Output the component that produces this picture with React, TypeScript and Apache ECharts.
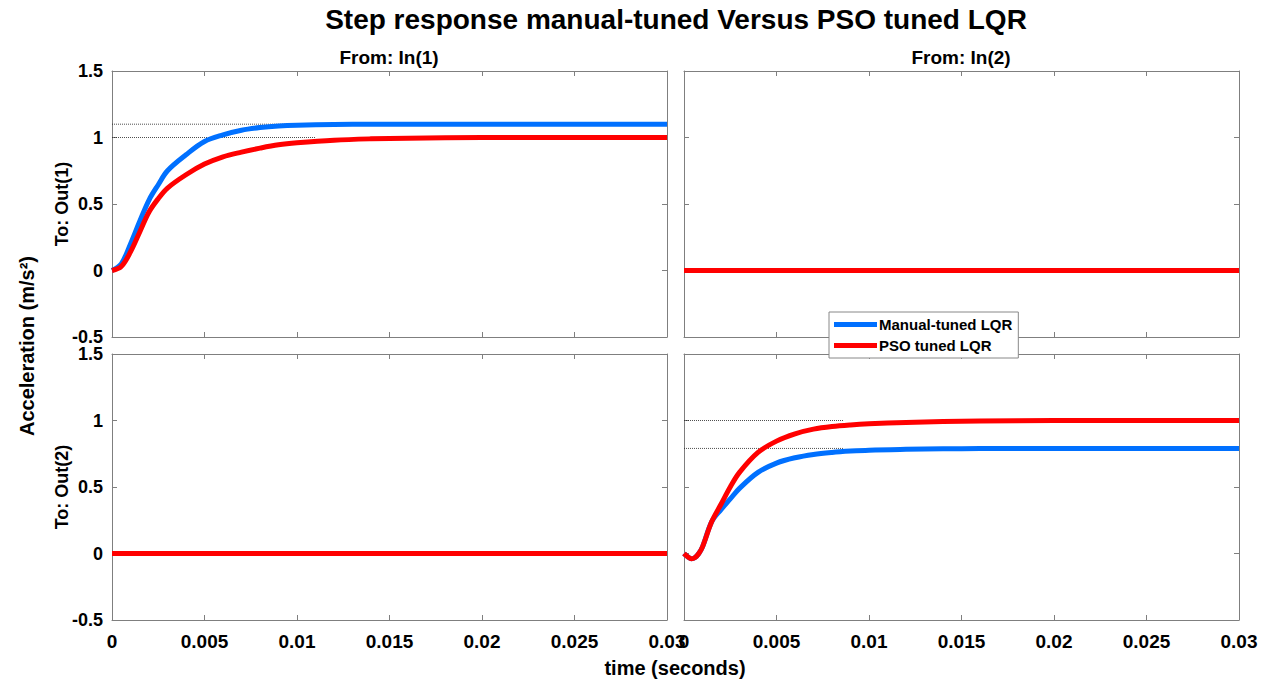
import React, { useEffect, useRef } from "react";
import * as echarts from "echarts";

const xTicks = [0, 0.005, 0.01, 0.015, 0.02, 0.025, 0.03];
const yTicks = [-0.5, 0, 0.5, 1, 1.5];

// Out(1) from In(1)
const t1 = [0, 0.0005, 0.001, 0.0015, 0.002, 0.0025, 0.003, 0.004, 0.005, 0.006, 0.007, 0.008, 0.009, 0.01, 0.012, 0.014, 0.016, 0.02, 0.025, 0.03];
const manualOut1 = [0, 0.05, 0.2, 0.37, 0.53, 0.645, 0.75, 0.87, 0.97, 1.02, 1.055, 1.075, 1.087, 1.093, 1.098, 1.1, 1.1, 1.1, 1.1, 1.1];
const psoOut1 = [0, 0.03, 0.14, 0.29, 0.44, 0.54, 0.62, 0.72, 0.8, 0.855, 0.89, 0.92, 0.945, 0.96, 0.98, 0.99, 0.995, 1.0, 1.0, 1.0];

// Out(2) from In(2)
const t2 = [0, 0.0002, 0.0004, 0.0006, 0.0008, 0.001, 0.0015, 0.002, 0.0025, 0.003, 0.004, 0.005, 0.006, 0.007, 0.008, 0.009, 0.01, 0.012, 0.014, 0.016, 0.02, 0.03];
const manualOut2 = [0, -0.025, -0.04, -0.03, 0.0, 0.05, 0.24, 0.33, 0.41, 0.49, 0.61, 0.68, 0.72, 0.745, 0.76, 0.77, 0.777, 0.783, 0.787, 0.789, 0.79, 0.79];
const psoOut2 = [0, -0.025, -0.04, -0.03, 0.0, 0.05, 0.24, 0.37, 0.5, 0.61, 0.76, 0.845, 0.9, 0.935, 0.955, 0.967, 0.975, 0.985, 0.992, 0.996, 1.0, 1.0];

// cross-coupling channels (zero)
const tZero = [0, 0.03];
const zeroVals = [0, 0];

// steady-state dotted guide lines
const refPanels = [0, 0, 3, 3];
const refLevels = [1.1, 1.0, 1.0, 0.79];
const refEnds = [0.0105, 0.011, 0.0086, 0.0086];

const zip = (t: number[], v: number[]) => t.map((x, i) => [x, v[i]]);

const BLUE = "#0070ff";
const RED = "#ff0000";
const AX = "#7f7f7f";
const FONT = "Liberation Sans, Arial, sans-serif";

export default function App() {
  const ref = useRef<HTMLDivElement>(null);
  useEffect(() => {
    const chart = echarts.init(ref.current!, null, { renderer: "svg" });
    const grids = [
      { left: 112, top: 71, width: 555, height: 266 },
      { left: 684, top: 71, width: 555, height: 266 },
      { left: 112, top: 354, width: 555, height: 266 },
      { left: 684, top: 354, width: 555, height: 266 },
    ];
    const xAxes: any[] = [];
    const yAxes: any[] = [];
    grids.forEach((g, i) => {
      const showX = i >= 2;
      const showY = i % 2 === 0;
      const base = {
        type: "value",
        gridIndex: i,
        axisLine: { show: true, onZero: false, lineStyle: { color: AX, width: 1 } },
        axisTick: { show: true, inside: true, length: 5, lineStyle: { color: AX } },
        splitLine: { show: false },
      };
      xAxes.push({
        ...base,
        position: "bottom",
        min: xTicks[0],
        max: xTicks[xTicks.length - 1],
        interval: 0.005,
        axisLabel: {
          show: showX,
          color: "#000",
          fontWeight: "bold",
          fontSize: 19,
          fontFamily: FONT,
          margin: 12,
          formatter: (v: number) => String(+v.toFixed(3)),
        },
      });
      xAxes.push({
        ...base,
        position: "top",
        min: xTicks[0],
        max: xTicks[xTicks.length - 1],
        interval: 0.005,
        axisLabel: { show: false },
      });
      yAxes.push({
        ...base,
        position: "left",
        min: yTicks[0],
        max: yTicks[yTicks.length - 1],
        interval: 0.5,
        axisLabel: {
          show: showY,
          color: "#000",
          fontWeight: "bold",
          fontSize: 18,
          lineHeight: 15,
          fontFamily: FONT,
          margin: 9,
        },
      });
      yAxes.push({
        ...base,
        position: "right",
        min: yTicks[0],
        max: yTicks[yTicks.length - 1],
        interval: 0.5,
        axisLabel: { show: false },
      });
    });

    const series: any[] = [];
    refLevels.forEach((lv, k) => {
      const p = refPanels[k];
      series.push({
        type: "line",
        xAxisIndex: p * 2,
        yAxisIndex: p * 2,
        data: [[0, lv], [refEnds[k], lv]],
        showSymbol: false,
        lineStyle: { color: "#222", width: 0.8, type: [1, 1] },
        z: 1,
        silent: true,
      });
    });
    const panelData = [
      [zip(t1, manualOut1), zip(t1, psoOut1)],
      [zip(tZero, zeroVals), zip(tZero, zeroVals)],
      [zip(tZero, zeroVals), zip(tZero, zeroVals)],
      [zip(t2, manualOut2), zip(t2, psoOut2)],
    ];
    panelData.forEach((pd, p) => {
      series.push({
        name: "Manual-tuned LQR",
        type: "line",
        xAxisIndex: p * 2,
        yAxisIndex: p * 2,
        data: pd[0],
        smooth: 0.35,
        showSymbol: false,
        lineStyle: { color: BLUE, width: 5 },
        itemStyle: { color: BLUE },
        z: 3,
      });
      series.push({
        name: "PSO tuned LQR",
        type: "line",
        xAxisIndex: p * 2,
        yAxisIndex: p * 2,
        data: pd[1],
        smooth: 0.35,
        showSymbol: false,
        lineStyle: { color: RED, width: 5 },
        itemStyle: { color: RED },
        z: 4,
      });
    });

    const txt = (text: string, x: number, y: number, size: number, rot = 0) => ({
      type: "text",
      x,
      y,
      rotation: rot,
      style: {
        text,
        fill: "#000",
        font: `bold ${size}px ${FONT}`,
        textAlign: "center",
        textVerticalAlign: "middle",
      },
      z: 10,
    });

    chart.setOption({
      animation: false,
      backgroundColor: "#fff",
      grid: grids.map((g) => ({ ...g, containLabel: false })),
      xAxis: xAxes,
      yAxis: yAxes,
      series,
      legend: {
        data: ["Manual-tuned LQR", "PSO tuned LQR"],
        orient: "vertical",
        left: 829,
        top: 312,
        backgroundColor: "#fff",
        borderColor: "#888",
        borderWidth: 1,
        padding: [5, 6, 5, 5],
        itemGap: 6,
        itemWidth: 43,
        itemHeight: 5,
        icon: "rect",
        textStyle: { color: "#000", fontWeight: "bold", fontSize: 15, fontFamily: FONT, padding: [0, 0, 0, -3] },
        selectedMode: false,
        z: 20,
      },
      graphic: [
        txt("Step response manual-tuned Versus PSO tuned LQR", 676, 19, 28),
        txt("From: In(1)", 389, 57, 19),
        txt("From: In(2)", 961, 57, 19),
        txt("Acceleration (m/s²)", 27, 346, 20, Math.PI / 2),
        txt("To: Out(1)", 62, 204, 18, Math.PI / 2),
        txt("To: Out(2)", 62, 487, 18, Math.PI / 2),
        txt("time (seconds)", 675, 668, 20),
      ],
    });
    return () => chart.dispose();
  }, []);
  return (
    <div
      ref={ref}
      style={{ position: "fixed", left: 0, top: 0, width: 1270, height: 681 }}
    />
  );
}
